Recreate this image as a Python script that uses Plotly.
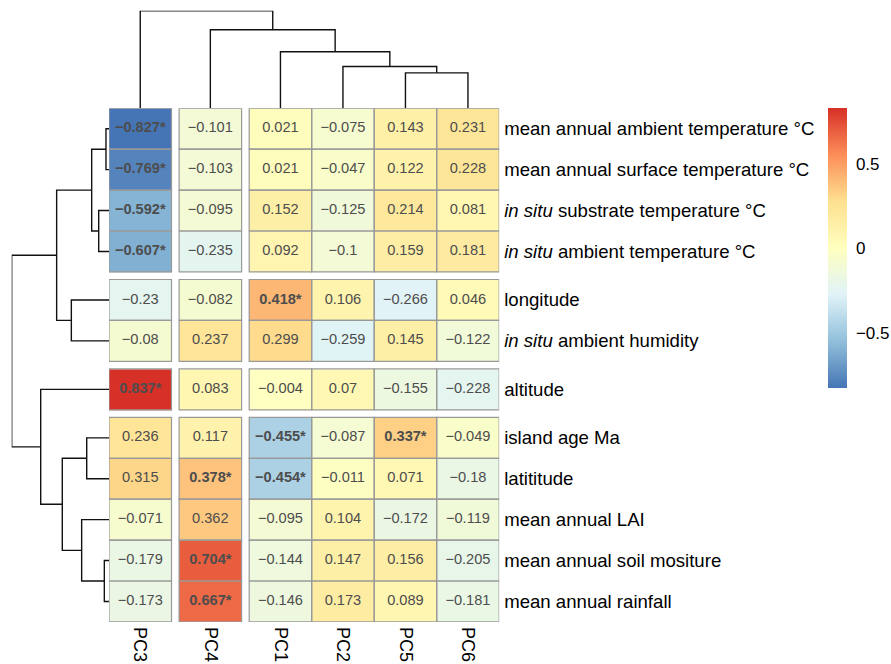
import plotly.graph_objects as go
import numpy as np

W, H = 891, 664

# ---------------- data ----------------
col_labels = ["PC3", "PC4", "PC1", "PC2", "PC5", "PC6"]
row_labels = [
    "mean annual ambient temperature °C",
    "mean annual surface temperature °C",
    "<i>in situ</i> substrate temperature °C",
    "<i>in situ</i> ambient temperature °C",
    "longitude",
    "<i>in situ</i> ambient humidity",
    "altitude",
    "island age Ma",
    "latititude",
    "mean annual LAI",
    "mean annual soil mositure",
    "mean annual rainfall",
]
values = [
    [-0.827, -0.101, 0.021, -0.075, 0.143, 0.231],
    [-0.769, -0.103, 0.021, -0.047, 0.122, 0.228],
    [-0.592, -0.095, 0.152, -0.125, 0.214, 0.081],
    [-0.607, -0.235, 0.092, -0.100, 0.159, 0.181],
    [-0.230, -0.082, 0.418, 0.106, -0.266, 0.046],
    [-0.080, 0.237, 0.299, -0.259, 0.145, -0.122],
    [0.837, 0.083, -0.004, 0.070, -0.155, -0.228],
    [0.236, 0.117, -0.455, -0.087, 0.337, -0.049],
    [0.315, 0.378, -0.454, -0.011, 0.071, -0.180],
    [-0.071, 0.362, -0.095, 0.104, -0.172, -0.119],
    [-0.179, 0.704, -0.144, 0.147, 0.156, -0.205],
    [-0.173, 0.667, -0.146, 0.173, 0.089, -0.181],
]
significant = [
    [1, 0, 0, 0, 0, 0],
    [1, 0, 0, 0, 0, 0],
    [1, 0, 0, 0, 0, 0],
    [1, 0, 0, 0, 0, 0],
    [0, 0, 1, 0, 0, 0],
    [0, 0, 0, 0, 0, 0],
    [1, 0, 0, 0, 0, 0],
    [0, 0, 1, 0, 1, 0],
    [0, 1, 1, 0, 0, 0],
    [0, 0, 0, 0, 0, 0],
    [0, 1, 0, 0, 0, 0],
    [0, 1, 0, 0, 0, 0],
]
col_groups = [1, 1, 4]
row_groups = [4, 2, 1, 5]
# dendrogram merges (child a, child b, height); leaves are display indices
col_merges = [(4, 5, 0.363), (3, 6, 0.428), (2, 7, 0.579), (1, 8, 0.805), (0, 9, 1.0)]
row_merges = [(0, 1, 0.031), (2, 3, 0.106), (12, 13, 0.178), (4, 5, 0.387),
              (14, 15, 0.538), (10, 11, 0.048), (7, 8, 0.229), (9, 17, 0.281),
              (18, 19, 0.48), (6, 20, 0.702), (16, 21, 1.0)]

# ---------------- layout helpers ----------------
COL_GAP = 0.1216
ROW_GAP = 0.186


def build(sizes, gap):
    edges = [0.0]
    centers = []
    real = []  # whether each brick is a real cell
    pos = 0.0
    for gi, s in enumerate(sizes):
        for _ in range(s):
            centers.append(pos + 0.5)
            pos += 1
            edges.append(pos)
            real.append(True)
        if gi < len(sizes) - 1:
            pos += gap
            edges.append(pos)
            real.append(False)
    return edges, centers, real, pos


xe, xc, xreal, xtot = build(col_groups, COL_GAP)
ye, yc, yreal, ytot = build(row_groups, ROW_GAP)

vals = np.array(values, dtype=float)
zfull = np.full((len(yreal), len(xreal)), np.nan)
ri = 0
for i, ry in enumerate(yreal):
    if not ry:
        continue
    ci = 0
    for j, rx in enumerate(xreal):
        if not rx:
            continue
        zfull[i, j] = vals[ri, ci]
        ci += 1
    ri += 1

zmin, zmax = float(vals.min()), float(vals.max())
rdylbu = ["#4575B4", "#91BFDB", "#E0F3F8", "#FFFFBF", "#FEE090", "#FC8D59", "#D73027"]
cscale = [[k / 6, c] for k, c in enumerate(rdylbu)]

FONT = "Liberation Sans, Arial, Helvetica, sans-serif"

# pixel geometry
hx0, hx1 = 109.0, 499.2
hy0, hy1 = 108.3, 621.9
dend_top = 10.7
dend_left = 11.7

fig = go.Figure()

fig.add_trace(go.Heatmap(
    x=xe, y=ye, z=zfull, colorscale=cscale, zmin=zmin, zmax=zmax,
    hoverinfo="skip", xaxis="x", yaxis="y",
    colorbar=dict(
        x=828 / W, xanchor="left", xpad=0,
        y=1 - (107.7 + 387.7) / 2 / H, yanchor="middle", ypad=0,
        len=280, lenmode="pixels", thickness=19, thicknessmode="pixels",
        outlinewidth=0, tickvals=[-0.5, 0, 0.5], ticktext=["−0.5", "0", "0.5"],
        ticks="outside", ticklen=6, tickcolor="rgba(0,0,0,0)",
        tickfont=dict(family=FONT, size=17, color="black"),
    ),
))

# cell text
tx, ty, tt = [], [], []
for r in range(len(row_labels)):
    for c in range(len(col_labels)):
        v = values[r][c]
        s = f"{v:g}".replace("-", "−")
        if significant[r][c]:
            s = f"<b>{s}*</b>"
        tx.append(xc[c]); ty.append(yc[r]); tt.append(s)
fig.add_trace(go.Scatter(
    x=tx, y=ty, text=tt, mode="text", hoverinfo="skip", xaxis="x", yaxis="y",
    textfont=dict(family=FONT, size=14.6, color="#4D4D4D"), showlegend=False,
))

# cell borders
shapes = []
for r in range(len(row_labels)):
    for c in range(len(col_labels)):
        shapes.append(dict(type="rect", xref="x", yref="y",
                           x0=xc[c] - 0.5, x1=xc[c] + 0.5,
                           y0=yc[r] - 0.5, y1=yc[r] + 0.5,
                           line=dict(color="#999999", width=1.2),
                           fillcolor="rgba(0,0,0,0)", layer="above"))


def dendro(leaf_pos, merges):
    n = len(leaf_pos)
    pos = list(leaf_pos)
    hts = [0.0] * n
    a_s, h_s = [], []
    for a, b, h in merges:
        pa, pb = pos[a], pos[b]
        a_s += [pa, pa, pb, pb, None]
        h_s += [hts[a], h, h, hts[b], None]
        pos.append((pa + pb) / 2)
        hts.append(h)
    return a_s, h_s


ca, ch = dendro(xc, col_merges)
fig.add_trace(go.Scatter(x=ca, y=ch, mode="lines", xaxis="x", yaxis="y2",
                         line=dict(color="#111111", width=1.4), hoverinfo="skip",
                         showlegend=False))
ra, rh = dendro(yc, row_merges)
fig.add_trace(go.Scatter(x=rh, y=ra, mode="lines", xaxis="x2", yaxis="y",
                         line=dict(color="#111111", width=1.4), hoverinfo="skip",
                         showlegend=False))

fig.update_layout(
    width=W, height=H, margin=dict(l=0, r=0, t=0, b=0, autoexpand=False),
    paper_bgcolor="white", plot_bgcolor="rgba(0,0,0,0)",
    showlegend=False, shapes=shapes,
    font=dict(family=FONT, color="black"),
    xaxis=dict(domain=[hx0 / W, hx1 / W], range=[0, xtot], anchor="y",
               showgrid=False, zeroline=False, showline=False, automargin=False,
               tickvals=xc, ticktext=col_labels, tickangle=90, ticks="",
               ticklabelstandoff=4,
               tickfont=dict(family=FONT, size=18, color="black")),
    yaxis=dict(domain=[1 - hy1 / H, 1 - hy0 / H], range=[ytot, 0], anchor="x",
               side="right", showgrid=False, zeroline=False, showline=False,
               automargin=False,
               tickvals=yc, ticktext=row_labels, ticks="", ticklabelstandoff=4,
               tickfont=dict(family=FONT, size=18.6, color="black")),
    yaxis2=dict(domain=[1 - hy0 / H, 1 - dend_top / H], range=[0, 1.0],
                anchor="x", visible=False, fixedrange=True),
    xaxis2=dict(domain=[dend_left / W, hx0 / W], range=[1.0, 0], anchor="y",
                visible=False, fixedrange=True),
)

fig.write_html(
    "out.html",
    config={"displayModeBar": False, "staticPlot": True},
    post_script="document.body.style.margin='0';document.body.style.overflow='hidden';",
)
